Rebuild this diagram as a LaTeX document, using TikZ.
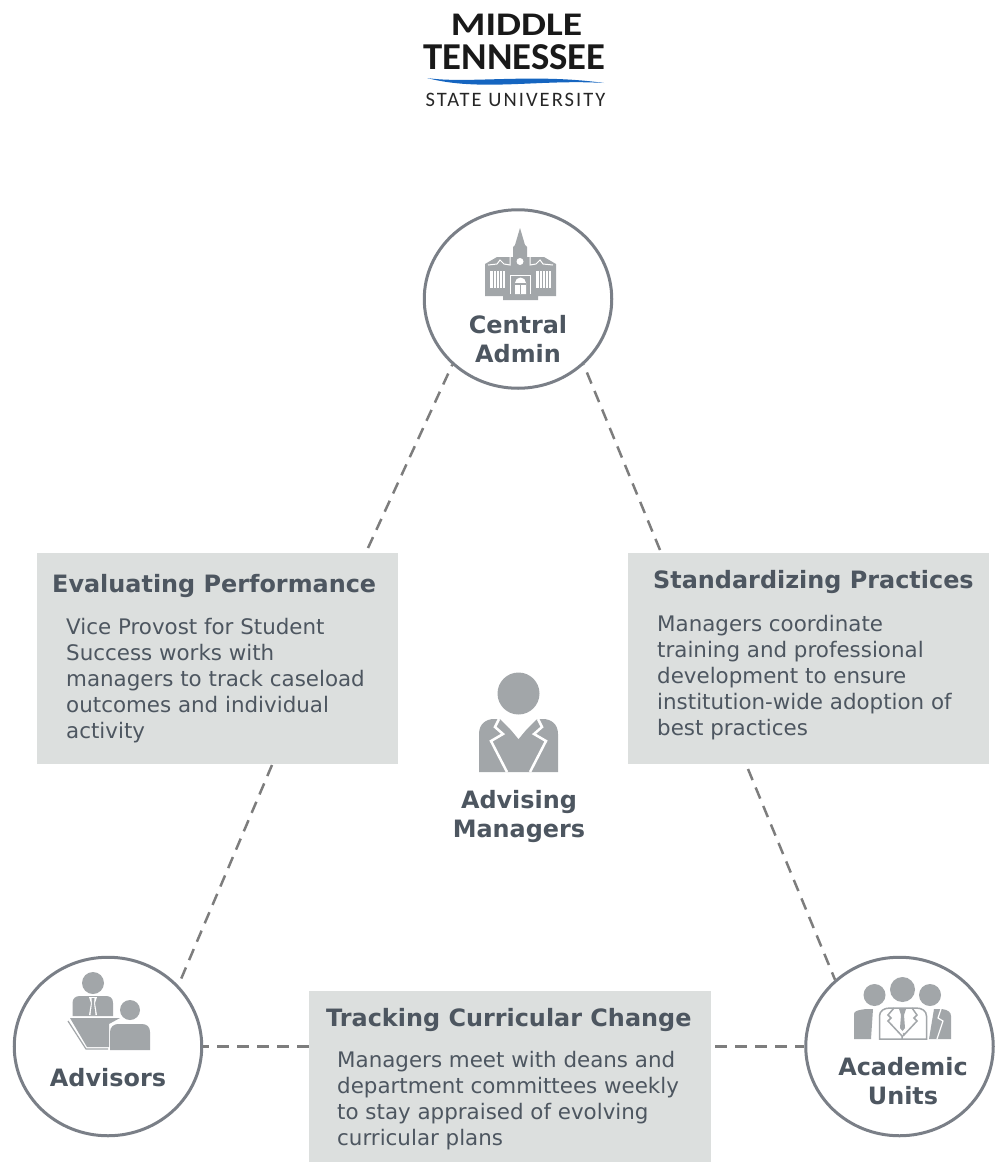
\documentclass[tikz,border=0pt]{standalone}
\usepackage{fontspec}
\setmainfont{DejaVu Sans}
\newfontfamily\logofont{Carlito}
\newfontfamily\logospaced[LetterSpace=10]{Carlito}
\usetikzlibrary{calc,positioning,shapes.geometric}
\definecolor{inkgray}{HTML}{4D5660}
\definecolor{boxgray}{HTML}{DCDFDE}
\definecolor{icongray}{HTML}{A2A6A9}
\definecolor{ringgray}{HTML}{7A7F87}
\definecolor{dashgray}{HTML}{7D7D7D}
\definecolor{logoblue}{HTML}{1565C0}
\tikzset{
mycircle/.style={
  ellipse,
  line width=3pt,
  inner sep=0pt,
  minimum width=187.5pt,
  minimum height=178.5pt,
  draw=ringgray,
  fill=white,
  }
}
\tikzset{
mybox/.style={
  rectangle,
  inner sep=0pt,
  fill=boxgray,
  }
}
\tikzset{
myline/.style={
  line width=2.5pt,
  color=dashgray,
  dash pattern=on 12pt off 8pt,
  }
}
\tikzset{
mytitle/.style={
  anchor=base west,
  inner sep=0pt,
  text=inkgray,
  font=\fontsize{23.9}{29}\selectfont\bfseries,
  }
}
\tikzset{
mylabel/.style={
  align=center,
  inner sep=0pt,
  text=inkgray,
  font=\fontsize{23.9}{29}\selectfont\bfseries,
  }
}
\tikzset{
mytext/.style={
  anchor=north west,
  align=left,
  inner sep=0pt,
  text=inkgray,
  font=\fontsize{21.4}{26}\selectfont,
  }
}
\begin{document}
\begin{tikzpicture}[x=1pt,y=-1pt]
    \useasboundingbox (0,0) rectangle (1001,1162);
    % logo
    \node[inner sep=0pt, text=black!90, font=\logofont\bfseries\fontsize{33}{33}\selectfont] (logo1) at (516.5,25) {\scalebox{1.2}[1]{MIDDLE}};
    \node[inner sep=0pt, text=black!90, font=\logofont\bfseries\fontsize{38}{38}\selectfont] (logo2) at (514.5,57) {\scalebox{1.02}[1]{TENNESSEE}};
    \node[inner sep=0pt, text=black!85, font=\logospaced\fontsize{20.5}{21}\selectfont] (logo3) at (515.5,100) {STATE UNIVERSITY};
    \fill[logoblue] (427,78) .. controls (467,84) and (533,73) .. (604,83) .. controls (540,79) and (480,92) .. (427,78) -- cycle;

    \node[mycircle] (admin) at (518,299) {};
    \node[mycircle] (advisors) at (108,1046.5) {};
    \node[mycircle] (units) at (899.5,1046.5) {};
    \node[mybox, minimum width=361pt, minimum height=211pt] (evalbox) at (217.5,658.5) {};
    \node[mybox, minimum width=361pt, minimum height=211pt] (stdbox) at (808.5,658.5) {};
    \node[mybox, minimum width=402pt, minimum height=171pt] (trackbox) at (510,1076.5) {};

    \coordinate (evaltop) at (368,548);
    \coordinate (evalbot) at (272,765);
    \coordinate (stdtop) at (660,550);
    \coordinate (stdbot) at (748,769);
    \draw[myline] (evaltop) -- (admin.225);
    \draw[myline] (evalbot) -- (advisors.41);
    \draw[myline] (stdtop) -- (admin.-45);
    \draw[myline] (stdbot) -- (units.134);
    \draw[myline] (trackbox.west |- advisors.east) -- (advisors.east);
    \draw[myline, shorten <=4pt] (trackbox.east |- units.west) -- (units.west);

    \node[mylabel] (adminlabel) at (518,339) {Central\\Admin};
    \node[mylabel] (advlabel) at (108,1078) {Advisors};
    \node[mylabel] (unitlabel) at (903,1081) {Academic\\Units};
    \node[mylabel] (mgrlabel) at (519,816) {Advising\\Managers};

    \node[mytitle] (evaltitle) at (52,592) {Evaluating Performance};
    \node[mytext] (evaltext) at (66,618) {Vice Provost for Student\\Success works with\\managers to track caseload\\outcomes and individual\\activity};
    \node[mytitle] (stdtitle) at (653,588) {Standardizing Practices};
    \node[mytext] (stdtext) at (657,615) {Managers coordinate\\training and professional\\development to ensure\\institution-wide adoption of\\best practices};
    \node[mytitle] (tracktitle) at (326,1026) {Tracking Curricular Change};
    \node[mytext] (tracktext) at (337,1051) {Managers meet with deans and\\department committees weekly\\to stay appraised of evolving\\curricular plans};

    % building icon
    \fill[icongray] (485,264) -- (497,257) -- (513,257) -- (513,247) -- (515,245) -- (520,228) -- (525,245) -- (527,247) -- (527,257) -- (544,257) -- (556,264) -- (556,296) -- (538,296) -- (538,300) -- (503,300) -- (503,296) -- (485,296) -- cycle;
    \fill[white] (490,271) rectangle (505,288);
    \fill[white] (536,271) rectangle (551,288);
    \foreach \x in {493,496,499,502,539,542,545,548} {\fill[icongray] (\x,271) rectangle +(1,17);}
    \fill[white] (520,261.5) circle (3.5);
    \fill[white] (515,294) -- (515,283) arc[start angle=180,end angle=360,radius=5.5] -- (526,294) -- cycle;
    \fill[icongray] (515,283) rectangle (526,285);
    \fill[icongray] (520,283) rectangle (521,294);
    \draw[white, line width=1pt] (510,294) -- (510,275) -- (530,275) -- (530,294);
    \draw[white, line width=1pt] (488,265) -- (497,264) -- (500,260) -- (504,264) -- (510,265) -- (510,252);
    \draw[white, line width=1pt] (530,252) -- (530,265) -- (536,264) -- (540,260) -- (543,264) -- (553,265);

    % manager icon
    \fill[icongray] (518.5,693.5) circle (21);
    \fill[icongray] (479,772) -- (479,734) .. controls (479,724) and (486,719) .. (494,719) -- (543,719) .. controls (551,719) and (558,724) .. (558,734) -- (558,772) -- cycle;
    \fill[white] (500,719) -- (537,719) -- (518.5,737) -- cycle;
    \draw[white, line width=2.5pt] (499,719) -- (495,727) -- (503,734) -- (491,741) -- (507,772);
    \draw[white, line width=2.5pt] (538,719) -- (542,727) -- (534,734) -- (546,741) -- (530,772);
    \draw[white, line width=2.5pt] (502,717) -- (518.5,737) -- (535,717);

    % advisors icon
    \fill[icongray] (93,983) circle (11);
    \fill[icongray] (72.5,1016) -- (72.5,1003) .. controls (72.5,998) and (76,996) .. (80,996) -- (106,996) .. controls (110,996) and (113,998) .. (113,1003) -- (113,1016) -- cycle;
    \fill[white] (89,997) -- (97,997) -- (95,1003) -- (97,1015) -- (89,1015) -- (91,1003) -- cycle;
    \fill[icongray] (91.5,998) -- (94.5,998) -- (94,1003) -- (95.5,1015) -- (90.5,1015) -- (92,1003) -- cycle;
    \fill[icongray] (70,1018) -- (120,1018) -- (109,1024) -- (109,1047) -- (87,1047) -- cycle;
    \draw[icongray, line width=1.2pt] (68,1021) -- (86,1049) -- (108,1049);
    \fill[icongray] (130,1010) circle (10);
    \fill[icongray] (110,1050) -- (110,1032) .. controls (110,1027) and (114,1024) .. (118,1024) -- (142,1024) .. controls (147,1024) and (150,1027) .. (150,1032) -- (150,1050) -- cycle;

    % academic units icon
    \fill[icongray] (874.5,995) circle (11);
    \fill[icongray] (902.5,989.5) circle (12.5);
    \fill[icongray] (930,995) circle (11);
    \fill[icongray] (854,1039) -- (854,1014) .. controls (854,1011) and (858,1010) .. (866,1009) -- (873,1009) -- (871,1039) -- cycle;
    \fill[icongray] (929,1039) -- (934,1009) -- (942,1009) .. controls (948,1010) and (951,1012) .. (951,1016) -- (951,1039) -- cycle;
    \draw[white, line width=1.2pt] (941,1009) -- (938,1018) -- (943,1021) -- (937,1039);
    \draw[icongray, line width=1.5pt] (879.5,1039) -- (879.5,1016) .. controls (879.5,1011) and (884,1008) .. (890,1008) -- (916,1008) .. controls (922,1008) and (926.5,1011) .. (926.5,1016) -- (926.5,1039) -- cycle;
    \draw[icongray, line width=1.5pt] (894,1008) -- (888,1015) -- (891,1018) -- (888,1021) -- (902,1036) -- (902,1039);
    \draw[icongray, line width=1.5pt] (912,1008) -- (917,1015) -- (914,1018) -- (917,1021) -- (903,1036);
    \fill[icongray] (899,1009) -- (906,1009) -- (904,1015) -- (905,1028) -- (902.5,1031) -- (900,1028) -- (901,1015) -- cycle;
    \fill[icongray] (904,1034) circle (1.3);
\end{tikzpicture}
\end{document}
